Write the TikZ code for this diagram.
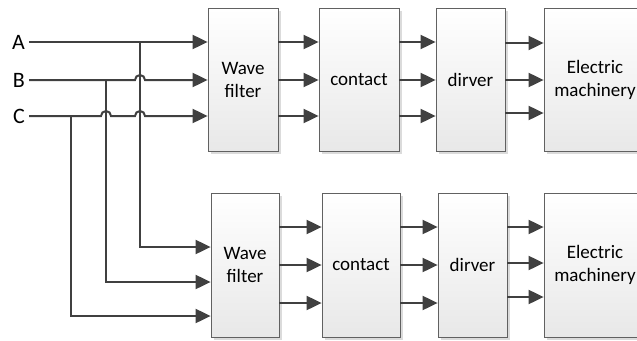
\documentclass[tikz,border=0pt]{standalone}
\usepackage{fontspec}
\setmainfont{Carlito}
\usetikzlibrary{arrows.meta,shadows}
\begin{document}
\begin{tikzpicture}[x=1pt,y=1pt,
  box/.style={draw=black!62, line width=0.8pt, top color=white, bottom color=black!9,
    drop shadow={shadow xshift=3pt,shadow yshift=-3pt,fill=black!14,opacity=1},
    align=center, font=\fontsize{19}{23}\selectfont, inner sep=0pt},
  wire/.style={draw=black!75, line width=2pt},
  arr/.style={wire, -{Triangle[length=15pt,width=14pt]}},
  lbl/.style={font=\fontsize{22}{26}\selectfont, anchor=east, inner xsep=4pt, inner ysep=0pt}]
\clip (0,0) rectangle (637,-340);
\useasboundingbox (0,0) rectangle (637,-340);
\fill[white] (0,0) rectangle (637,-340);
% top row
\node[box, minimum width=70pt, minimum height=143pt] (f1) at (243,-79.5) {Wave\\filter};
\node[box, minimum width=80pt, minimum height=143pt] (c1) at (359,-79.5) {contact};
\node[box, minimum width=69pt, minimum height=143pt] (d1) at (470.5,-79.5) {dirver};
\node[box, minimum width=102pt, minimum height=143pt] (e1) at (595,-79.5) {Electric\\machinery};
% bottom row
\node[box, minimum width=68pt, minimum height=144pt] (f2) at (245,-265) {Wave\\filter};
\node[box, minimum width=78pt, minimum height=144pt] (c2) at (361,-265) {contact};
\node[box, minimum width=69pt, minimum height=144pt] (d2) at (472.5,-265) {dirver};
\node[box, minimum width=102pt, minimum height=144pt] (e2) at (595,-265) {Electric\\machinery};
% labels
\node[lbl] (A) at (29,-42) {A};
\node[lbl] (B) at (29,-80) {B};
\node[lbl] (C) at (29,-116) {C};
\coordinate (tA) at (140,-42);
\coordinate (tB) at (106,-80);
\coordinate (tC) at (71,-116);
\coordinate (pA) at (0,-247);
\coordinate (pB) at (0,-282);
\coordinate (pC) at (0,-316);
% phase inputs
\draw[arr] (A.east) -- (f1.west |- A.east);
\draw[arr] (B.east) -- ([xshift=-5pt]tA |- B.east) arc[start angle=180,end angle=0,radius=5pt] -- (f1.west |- B.east);
\draw[arr] (C.east) -- ([xshift=-5pt]tB |- C.east) arc[start angle=180,end angle=0,radius=5pt]
  -- ([xshift=-5pt]tA |- C.east) arc[start angle=180,end angle=0,radius=5pt] -- (f1.west |- C.east);
\draw[arr] (tA) -- (tA |- pA) -- (f2.west |- pA);
\draw[arr] (tB) -- (tB |- pB) -- (f2.west |- pB);
\draw[arr] (tC) -- (tC |- pC) -- (f2.west |- pC);
% top connectors
\foreach \y in {42,80,116} {
  \draw[arr] (f1.east |- 0,-\y) -- (c1.west |- 0,-\y);
  \draw[arr] (c1.east |- 0,-\y) -- (d1.west |- 0,-\y);
}
\foreach \y in {43,80,113} {
  \draw[arr] (d1.east |- 0,-\y) -- (e1.west |- 0,-\y);
}
% bottom connectors
\foreach \y in {227,265,303} {
  \draw[arr] (f2.east |- 0,-\y) -- (c2.west |- 0,-\y);
  \draw[arr] (c2.east |- 0,-\y) -- (d2.west |- 0,-\y);
}
\foreach \y in {227,263,297} {
  \draw[arr] (d2.east |- 0,-\y) -- (e2.west |- 0,-\y);
}
\end{tikzpicture}
\end{document}
